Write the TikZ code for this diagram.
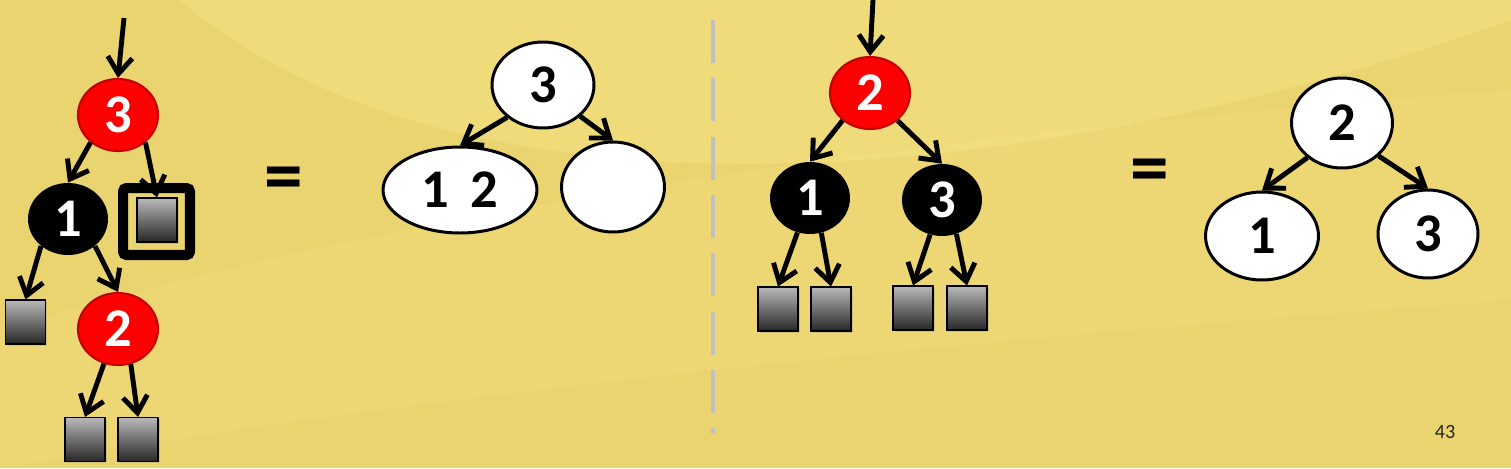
\documentclass[tikz,border=0pt]{standalone}
\usepackage{fontspec}
\setmainfont{Carlito}
\usetikzlibrary{shapes.geometric,arrows.meta,shadows}
\definecolor{bgbase}{RGB}{234,212,112}
\definecolor{bglight}{RGB}{246,229,135}
\definecolor{rbred}{RGB}{255,0,0}
\definecolor{rbdark}{RGB}{196,0,0}
\definecolor{sepgray}{RGB}{192,192,192}

\begin{document}
\begin{tikzpicture}[x=0.02cm, y=-0.02cm,
    edge/.style = {line width=2.8pt, -{Straight Barb[length=9.5pt,width=14pt]}},
    rb/.style = {ellipse, inner sep=0pt, minimum width=1.6cm, minimum height=1.44cm, text=white, font=\bfseries\fontsize{31}{33}\selectfont},
    rednode/.style = {rb, fill=rbred, draw=rbdark, line width=1.2pt},
    blacknode/.style = {rb, fill=black},
    bnode/.style = {ellipse, inner sep=0pt, fill=white, draw=black, line width=1.7pt, font=\bfseries\fontsize{31}{33}\selectfont},
    leaf/.style = {rectangle, draw=black, line width=0.6pt, inner sep=0pt, minimum width=0.8cm, minimum height=0.88cm, top color=gray!55, bottom color=black!85, drop shadow={opacity=0.25, shadow xshift=1pt, shadow yshift=-1pt}},
    boxframe/.style = {rectangle, draw=black, line width=5.7pt, rounded corners=2pt, minimum size=1.34cm},
    eq/.style = {font=\bfseries\fontsize{44}{44}\selectfont}]

    \useasboundingbox (0,0) rectangle (1511,468);
    \fill[bgbase] (0,0) rectangle (1511,468);
    \fill[bglight, opacity=0.45] (180,0) .. controls (450,230) and (1000,200) .. (1511,20) -- (1511,0) -- cycle;
    \fill[bglight, opacity=0.2] (0,330) .. controls (500,180) and (1100,120) .. (1511,90) -- (1511,300) .. controls (1100,330) and (500,380) .. (0,468) -- cycle;

    % red-black tree, left
    \node[rednode] (a_3) at (118,115) {3};
    \node[blacknode] (a_1) at (68,219) {1};
    \node[rednode] (a_2) at (118,329) {2};
    \node[leaf] (a_l1) at (25.5,322) {};
    \node[leaf] (a_l2) at (85,439.5) {};
    \node[leaf] (a_l3) at (138,439.5) {};
    \node[leaf] (a_l4) at (157,220) {};
    \node[boxframe] (a_box) at (156.5,221.5) {};
    \coordinate (a_in) at (124,18);

    \draw[edge] (a_in) -- (a_3.north);
    \draw[edge] (a_3.-135) -- (a_1.north);
    \draw[edge] (a_3.-45) -- (a_l4.north);
    \draw[edge] (a_1.-135) -- (a_l1.north);
    \draw[edge] (a_1.-45) -- (a_2.north);
    \draw[edge] (a_2.-112) -- (a_l2.north);
    \draw[edge] (a_2.-70) -- (a_l3.north);

    \node[eq] (eq_1) at (284,184) {=};

    % 2-3 tree, left
    \node[bnode, minimum width=2.04cm, minimum height=1.72cm] (t_3) at (543,85) {3};
    \node[bnode, minimum width=3.08cm, minimum height=1.72cm] (t_12) at (460,190) {1\hspace{0.4em}2};
    \node[bnode, minimum width=2.06cm, minimum height=1.8cm] (t_e) at (613,187) {};

    \draw[edge] (t_3.-138) -- (t_12.north);
    \draw[edge] (t_3.-40) -- (t_e.north);

    \draw[sepgray, line width=2.8pt, dash pattern=on 24.4pt off 8.8pt] (713,20) -- (713,434);

    % red-black tree, right
    \node[rednode] (b_2) at (870,93) {2};
    \node[blacknode] (b_1) at (810,198) {1};
    \node[blacknode] (b_3) at (942,200) {3};
    \node[leaf] (b_l1) at (778,309) {};
    \node[leaf] (b_l2) at (831,309) {};
    \node[leaf] (b_l3) at (913,308) {};
    \node[leaf] (b_l4) at (967,308) {};
    \coordinate (b_in) at (873,0);

    \draw[edge] (b_in) -- (b_2.north);
    \draw[edge] (b_2.-135) -- (b_1.north);
    \draw[edge] (b_2.-45) -- (b_3.north);
    \draw[edge] (b_1.-110) -- (b_l1.north);
    \draw[edge] (b_1.-72) -- (b_l2.north);
    \draw[edge] (b_3.-109) -- (b_l3.north);
    \draw[edge] (b_3.-67) -- (b_l4.north);

    \node[eq] (eq_2) at (1150,176) {=};

    % 2-3 tree, right
    \node[bnode, minimum width=2.02cm, minimum height=1.8cm] (s_2) at (1342,123) {2};
    \node[bnode, minimum width=2.26cm, minimum height=1.76cm] (s_1) at (1262,236) {1};
    \node[bnode, minimum width=2.0cm, minimum height=1.76cm] (s_3) at (1428,234) {3};

    \draw[edge] (s_2.-135) -- (s_1.north);
    \draw[edge] (s_2.-42) -- (s_3.north);

    \node[font=\fontsize{11.5}{12}\selectfont, text=black!85] (pg) at (1445,432) {43};
\end{tikzpicture}
\end{document}
